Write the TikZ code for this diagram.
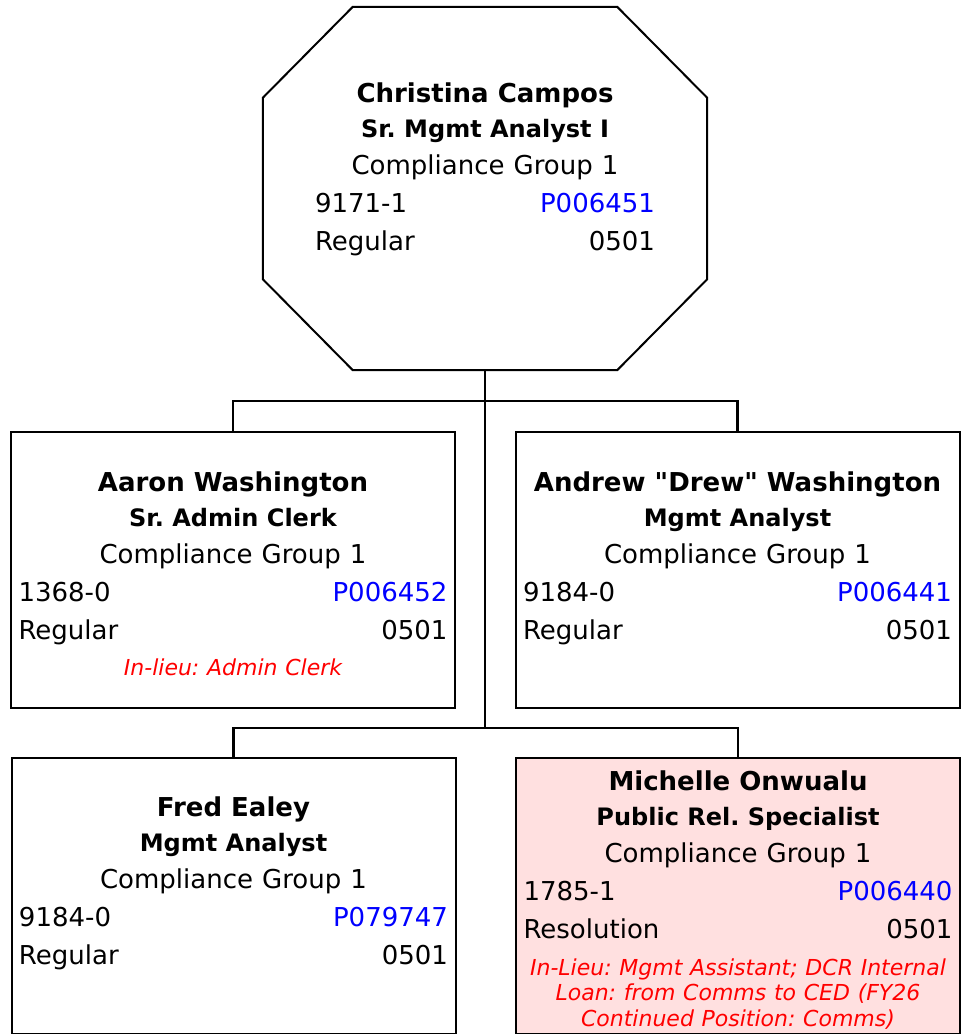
\documentclass[tikz,border=0pt]{standalone}
\usepackage{fontspec}
\setmainfont{DejaVu Sans}
\newfontfamily\straight{DejaVu Sans}
\usetikzlibrary{positioning}
\definecolor{loanpink}{RGB}{255,224,224}
\newcommand\wsp{\spaceskip=.35em\xspaceskip=.35em\relax}
\newcommand\ctr[1]{\noindent\hbox to\linewidth{\wsp\hfil#1\hfil}\par}
\newcommand\nm[1]{{\fontsize{26}{35}\selectfont\bfseries\ctr{\rule{0pt}{20pt}#1}}}
\newcommand\ttl[1]{{\fontsize{24}{35}\selectfont\bfseries\ctr{#1}}}
\newcommand\grp[1]{{\fontsize{26}{37}\selectfont\ctr{#1}}}
\newcommand\lr[2]{{\fontsize{26}{38}\selectfont\noindent\hbox to\linewidth{\wsp#1\hfill #2}\par}}
\newcommand\pos[1]{\textcolor{blue}{#1}}
\newcommand\nt[1]{{\vspace{11pt}\fontsize{22}{25.5}\selectfont\itshape\ctr{\color{red}#1}}}
\newcommand\ntl[1]{{\fontsize{22}{25.5}\selectfont\itshape\ctr{\color{red}#1}}}
\newcommand\dq{{\straight"}}
\tikzset{
  card/.style={draw,line width=2pt,minimum width=444pt,minimum height=276pt},
  info/.style={text width=429pt,inner sep=0pt},
  link/.style={line width=2.8pt}
}
\begin{document}
\begin{tikzpicture}[x=1pt,y=-1pt]
\useasboundingbox (0,0) rectangle (961,1034);
\node[minimum width=444pt,minimum height=363pt] (campos) at (485,188.5) {};
\draw[line width=2pt] ([xshift=90pt]campos.north west) -- ([xshift=-90pt]campos.north east)
  -- ([yshift=-91pt]campos.north east) -- ([yshift=91pt]campos.south east)
  -- ([xshift=-90pt]campos.south east) -- ([xshift=90pt]campos.south west)
  -- ([yshift=91pt]campos.south west) -- ([yshift=-91pt]campos.north west) -- cycle;
\node[card] (aaron) at (233,570) {};
\node[card] (drew) at (737.5,570) {};
\node[card] (fred) at (233.5,895.5) {};
\node[card,fill=loanpink] (michelle) at (738,895.5) {};
\coordinate (bus1) at (485,401);
\coordinate (bus2) at (485,728);
\draw[link] (campos.south) -- (bus2);
\draw[link] (aaron.north) |- (bus1) -| (drew.north);
\draw[link] (fred.north) |- (bus2) -| (michelle.north);
\node[info,text width=340pt,below=75pt of campos.north] (camposinfo) {\nm{Christina Campos}\ttl{Sr. Mgmt Analyst I}\grp{Compliance Group 1}\lr{9171-1}{\pos{P006451}}\lr{Regular}{0501}};
\node[info,below=40pt of aaron.north] (aaroninfo) {\nm{Aaron Washington}\ttl{Sr. Admin Clerk}\grp{Compliance Group 1}\lr{1368-0}{\pos{P006452}}\lr{Regular}{0501}\nt{In-lieu: Admin Clerk}};
\node[info,below=40pt of drew.north] (drewinfo) {\nm{Andrew \dq Drew\dq\ Washington}\ttl{Mgmt Analyst}\grp{Compliance Group 1}\lr{9184-0}{\pos{P006441}}\lr{Regular}{0501}};
\node[info,below=40pt of fred.north] (fredinfo) {\nm{Fred Ealey}\ttl{Mgmt Analyst}\grp{Compliance Group 1}\lr{9184-0}{\pos{P079747}}\lr{Regular}{0501}};
\node[info,below=14pt of michelle.north] (michelleinfo) {\nm{Michelle Onwualu}\ttl{Public Rel. Specialist}\grp{Compliance Group 1}\lr{1785-1}{\pos{P006440}}\lr{Resolution}{0501}\nt{In-Lieu: Mgmt Assistant; DCR Internal}\ntl{Loan: from Comms to CED (FY26}\ntl{Continued Position: Comms)}};
\end{tikzpicture}
\end{document}
